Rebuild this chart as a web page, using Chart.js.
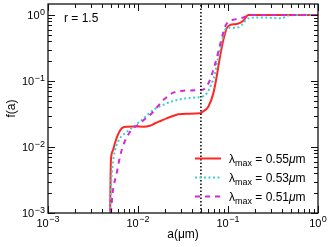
<!DOCTYPE html>
<html>
<head>
<meta charset="utf-8">
<script src="https://cdn.jsdelivr.net/npm/chart.js@4.4.0/dist/chart.umd.min.js"></script>
<style>
  html, body { margin: 0; padding: 0; background: #fff; }
  canvas { display: block; }
</style>
</head>
<body>
<canvas id="chartSizeDist" width="332" height="247"></canvas>
<script>
// grain size a (um) and cumulative f(a)
const redA = [0.0049, 0.00495, 0.0050, 0.00525, 0.00555, 0.0060, 0.0066, 0.00748, 0.0090, 0.01146, 0.0135, 0.01545, 0.0180, 0.0208, 0.0245, 0.028, 0.035, 0.0489, 0.052, 0.0604, 0.0687, 0.0748, 0.0815, 0.0887, 0.0966, 0.105, 0.1247, 0.148, 0.168, 0.2, 0.4, 1.0];
const redF = [0.001, 0.003, 0.0063, 0.0088, 0.0115, 0.0155, 0.0192, 0.0203, 0.0205, 0.0203, 0.0210, 0.0229, 0.0250, 0.0272, 0.0295, 0.0313, 0.0320, 0.0324, 0.034, 0.0408, 0.065, 0.116, 0.234, 0.418, 0.628, 0.705, 0.731, 0.82, 1.0, 1.0, 1.0, 1.0];

const cyanA = [0.0049, 0.00505, 0.0052, 0.00555, 0.0063, 0.0075, 0.0089, 0.011, 0.0148, 0.0208, 0.0293, 0.0449, 0.052, 0.058, 0.066, 0.0718, 0.078, 0.085, 0.0927, 0.101, 0.1247, 0.142, 0.168, 0.237, 0.33, 0.395, 0.449, 0.52, 1.0];
const cyanF = [0.001, 0.003, 0.005, 0.009, 0.0135, 0.017, 0.0203, 0.0257, 0.0364, 0.0459, 0.0528, 0.0566, 0.058, 0.065, 0.092, 0.131, 0.234, 0.394, 0.593, 0.643, 0.643, 0.705, 0.89, 0.92, 0.90, 0.89, 0.965, 1.0, 1.0];

const magA = [0.00501, 0.00522, 0.0058, 0.0063, 0.00687, 0.00815, 0.0105, 0.0148, 0.0191, 0.0247, 0.0319, 0.0489, 0.0555, 0.063, 0.0687, 0.0748, 0.0815, 0.0927, 0.101, 0.12, 0.148, 0.183, 0.3, 1.0];
const magF = [0.001, 0.002, 0.004, 0.0071, 0.0107, 0.017, 0.0229, 0.0343, 0.0515, 0.0665, 0.0715, 0.073, 0.0775, 0.1035, 0.147, 0.221, 0.351, 0.665, 0.792, 0.86, 0.92, 1.0, 1.0, 1.0];

const lambdaMax = ['0.55', '0.53', '0.51'];
const cutA = 0.05;
const rLabel = 'r = 1.5';
const xExps = [-3, -2, -1, 0];
const yExps = [-3, -2, -1, 0];
const yTop = 1.47;

const FONT = '"Liberation Sans", Arial, sans-serif';

function zip(xs, ys) {
  return xs.map((x, i) => ({ x, y: ys[i] }));
}

function drawPow(ctx, exp, x, y, align) {
  const base = '10';
  const sup = exp === 0 ? '0' : '\u2212' + Math.abs(exp);
  ctx.font = '11px ' + FONT;
  const wb = ctx.measureText(base).width;
  ctx.font = '9px ' + FONT;
  const ws = ctx.measureText(sup).width;
  const total = wb + ws + 0.5;
  const x0 = align === 'right' ? x - total : x - total / 2;
  ctx.textAlign = 'left';
  ctx.textBaseline = 'alphabetic';
  ctx.font = '11px ' + FONT;
  ctx.fillText(base, x0, y + 4);
  ctx.font = '9px ' + FONT;
  ctx.fillText(sup, x0 + wb + 0.5, y - 0.5);
}

const framePlugin = {
  id: 'frame',
  afterDraw(chart) {
    const { ctx, chartArea: area, scales } = chart;
    const xs = scales.x;
    const ys = scales.y;
    ctx.save();
    ctx.fillStyle = '#000';
    ctx.strokeStyle = '#111';

    // inward ticks, all four sides
    ctx.lineWidth = 1;
    ctx.beginPath();
    for (let e = -3; e <= 0; e++) {
      for (let k = 1; k <= 9; k++) {
        const v = k * Math.pow(10, e);
        const len = k === 1 ? 7 : 4;
        if (v <= 1) {
          const px = Math.round(xs.getPixelForValue(v)) + 0.5;
          ctx.moveTo(px, area.bottom); ctx.lineTo(px, area.bottom - len);
          ctx.moveTo(px, area.top); ctx.lineTo(px, area.top + len);
        }
        if (v <= yTop) {
          const py = Math.round(ys.getPixelForValue(v)) + 0.5;
          ctx.moveTo(area.left, py); ctx.lineTo(area.left + len, py);
          ctx.moveTo(area.right, py); ctx.lineTo(area.right - len, py);
        }
      }
    }
    ctx.stroke();

    ctx.lineWidth = 1.3;
    ctx.strokeRect(area.left, area.top, area.right - area.left, area.bottom - area.top);

    xExps.forEach((e) => drawPow(ctx, e, xs.getPixelForValue(Math.pow(10, e)), area.bottom + 9.5, 'center'));
    yExps.forEach((e) => drawPow(ctx, e, area.left - 3, ys.getPixelForValue(Math.pow(10, e)), 'right'));

    ctx.font = '12px ' + FONT;
    ctx.textAlign = 'left';
    ctx.textBaseline = 'alphabetic';
    ctx.fillText(rLabel, 64, 21.5);

    // legend with subscripted lambda_max
    chart.data.datasets.slice(0, 3).forEach((ds, i) => {
      const y = 158.5 + i * 19;
      ctx.save();
      ctx.strokeStyle = ds.borderColor;
      ctx.lineWidth = ds.borderWidth;
      ctx.setLineDash(ds.borderDash || []);
      ctx.beginPath();
      ctx.moveTo(195, y); ctx.lineTo(221, y);
      ctx.stroke();
      ctx.restore();

      let x = 229;
      ctx.font = '12px ' + FONT;
      ctx.fillText('\u03bb', x, y + 4.5);
      x += ctx.measureText('\u03bb').width;
      ctx.font = '9px ' + FONT;
      ctx.fillText('max', x, y + 7);
      x += ctx.measureText('max').width;
      ctx.font = '12px ' + FONT;
      const mid = ' = ' + lambdaMax[i];
      ctx.fillText(mid, x, y + 4.5);
      x += ctx.measureText(mid).width;
      ctx.font = 'italic 12px ' + FONT;
      ctx.fillText('\u03bc', x, y + 4.5);
      x += ctx.measureText('\u03bc').width;
      ctx.font = '12px ' + FONT;
      ctx.fillText('m', x, y + 4.5);
    });
    ctx.restore();
  },
};

const lineBase = {
  pointRadius: 0,
  borderWidth: 2,
  fill: false,
  cubicInterpolationMode: 'monotone',
};

new Chart(document.getElementById('chartSizeDist').getContext('2d'), {
  type: 'line',
  data: {
    datasets: [
      { ...lineBase, label: 'red', order: 3, data: zip(redA, redF), borderColor: '#ff2626' },
      { ...lineBase, label: 'cyan', order: 2, data: zip(cyanA, cyanF), borderColor: '#3fcfcf', borderDash: [2, 2.5] },
      { ...lineBase, label: 'magenta', order: 1, data: zip(magA, magF), borderColor: '#d428d4', borderDash: [5, 5] },
      {
        label: 'cut',
        order: 0,
        data: [{ x: cutA, y: 0.001 }, { x: cutA, y: yTop }],
        borderColor: '#000',
        borderWidth: 1.5,
        borderDash: [1.5, 2],
        pointRadius: 0,
        tension: 0,
        fill: false,
      },
    ],
  },
  options: {
    responsive: false,
    animation: false,
    devicePixelRatio: 1,
    layout: { padding: { left: 0, right: 14, top: 4, bottom: 0 } },
    plugins: {
      legend: { display: false },
      tooltip: { enabled: false },
    },
    scales: {
      x: {
        type: 'logarithmic',
        min: 0.001,
        max: 1,
        grid: { display: false },
        border: { display: false },
        ticks: { display: false },
        title: {
          display: true,
          text: 'a(\u03bcm)',
          color: '#000',
          font: { family: FONT, size: 12 },
          padding: { top: 0, bottom: 5 },
        },
        afterFit(scale) { scale.height = 34; },
      },
      y: {
        type: 'logarithmic',
        min: 0.001,
        max: yTop,
        grid: { display: false },
        border: { display: false },
        ticks: { display: false },
        title: {
          display: true,
          text: 'f(a)',
          color: '#000',
          font: { family: FONT, size: 12 },
          padding: { top: 4, bottom: 0 },
        },
        afterFit(scale) { scale.width = 48; },
      },
    },
  },
  plugins: [framePlugin],
});
</script>
</body>
</html>
